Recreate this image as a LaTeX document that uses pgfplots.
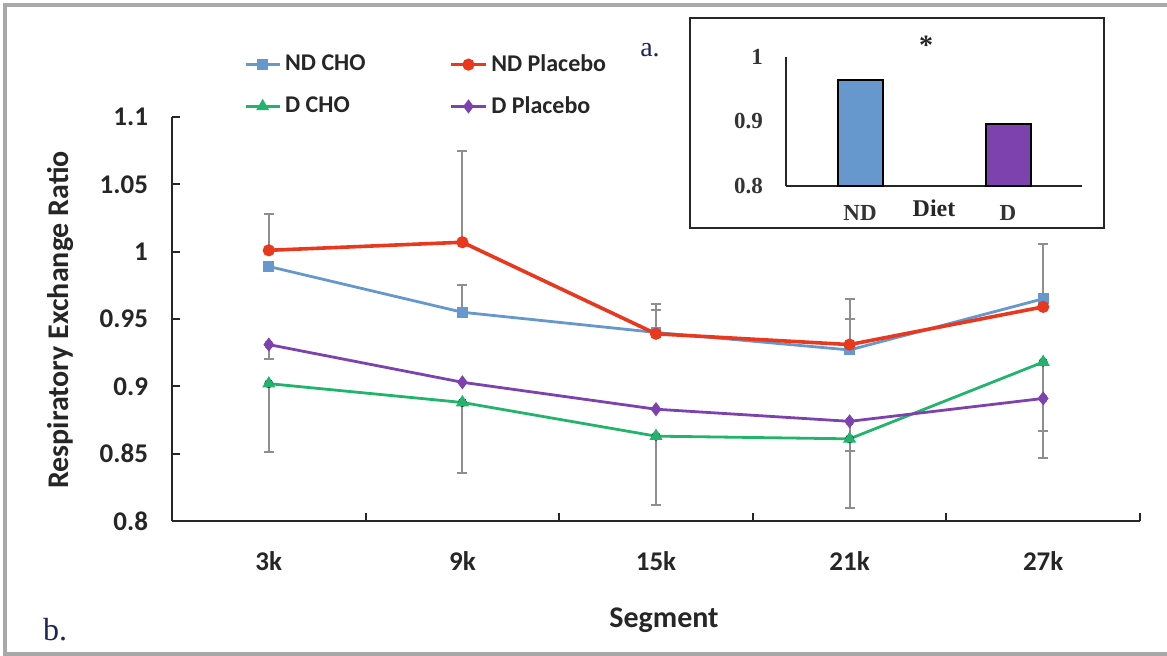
\documentclass[border=0pt]{standalone}
\usepackage{pgfplots}
\pgfplotsset{compat=1.18}
\usepackage{fontspec}
\setmainfont{Carlito}
\newfontfamily\timesf{Liberation Serif}

\definecolor{ndcho}{HTML}{6698CE}
\definecolor{ndpla}{HTML}{E8381E}
\definecolor{dcho}{HTML}{22B46C}
\definecolor{dpla}{HTML}{7E42AE}
\definecolor{errgray}{HTML}{8E8E8E}
\definecolor{navy}{HTML}{1C2458}
\definecolor{framegray}{HTML}{A8A8A8}

\begin{document}
\begin{tikzpicture}
\useasboundingbox (0,0) rectangle (583.5pt,328pt);
% outer frame
\draw[framegray, line width=1.6pt] (600pt,325.5pt) -- (2.5pt,325.5pt) -- (2.5pt,1pt) -- (600pt,1pt);

% main chart (b)
\begin{axis}[
  at={(86pt,67.5pt)}, anchor=south west,
  scale only axis, width=484pt, height=202pt,
  xmin=-0.5, xmax=4.5, ymin=0.8, ymax=1.1,
  axis x line*=bottom, axis y line*=left,
  axis line style={black!85, line width=1pt, -},
  tick align=inside, major tick length=4pt,
  tick style={black!85, line width=1pt},
  xtick={-0.5,0.5,1.5,2.5,3.5,4.5}, xticklabels={},
  extra x ticks={0,1,2,3,4}, extra x tick labels={3k,9k,15k,21k,27k},
  extra x tick style={major tick length=0pt, xticklabel style={yshift=-12pt}},
  ytick={0.8,0.85,0.9,0.95,1,1.05,1.1},
  /pgf/number format/assume math mode=true,
  tick label style={font=\fontsize{13.5pt}{15pt}\selectfont\bfseries, text=black!85},
  yticklabel style={xshift=-8.5pt},
  legend columns=2,
  legend cell align=left,
  legend style={draw=none, fill=none, at={(0.068,1.175)}, anchor=north west,
    font=\fontsize{12pt}{14pt}\selectfont\bfseries, text=black!85,
    /tikz/every even column/.append style={column sep=40pt},
    row sep=7pt},
]
% error bars (upper)
\addplot[forget plot, only marks, mark=none,
  error bars/.cd, y dir=plus, y explicit,
  error bar style={errgray, line width=1pt},
  error mark options={errgray, line width=1pt, mark size=2.5pt, rotate=90}]
  coordinates {(1,0.955) +- (0,0.020) (2,0.940) +- (0,0.017) (3,0.927) +- (0,0.023) (4,0.965) +- (0,0.041)};
\addplot[forget plot, only marks, mark=none,
  error bars/.cd, y dir=plus, y explicit,
  error bar style={errgray, line width=1pt},
  error mark options={errgray, line width=1pt, mark size=2.5pt, rotate=90}]
  coordinates {(0,1.001) +- (0,0.027) (1,1.007) +- (0,0.068) (2,0.939) +- (0,0.022) (3,0.931) +- (0,0.034)};
% error bars (lower)
\addplot[forget plot, only marks, mark=none,
  error bars/.cd, y dir=minus, y explicit,
  error bar style={errgray, line width=1pt},
  error mark options={errgray, line width=1pt, mark size=2.5pt, rotate=90}]
  coordinates {(0,0.902) +- (0,0.051) (1,0.888) +- (0,0.052) (2,0.863) +- (0,0.051) (3,0.861) +- (0,0.051) (4,0.918) +- (0,0.051)};
\addplot[forget plot, only marks, mark=none,
  error bars/.cd, y dir=minus, y explicit,
  error bar style={errgray, line width=1pt},
  error mark options={errgray, line width=1pt, mark size=2.5pt, rotate=90}]
  coordinates {(0,0.931) +- (0,0.011) (3,0.874) +- (0,0.022) (4,0.891) +- (0,0.044)};

% series
\addplot[ndcho, line width=1.4pt, mark=square*, mark size=2pt, mark options={solid}]
  coordinates {(0,0.989) (1,0.955) (2,0.940) (3,0.927) (4,0.965)};
\addlegendentry{ND CHO}
\addplot[ndpla, line width=1.8pt, mark=*, mark size=2.1pt]
  coordinates {(0,1.001) (1,1.007) (2,0.939) (3,0.931) (4,0.959)};
\addlegendentry{ND Placebo}
\addplot[dcho, line width=1.4pt, mark=triangle*, mark size=2.4pt]
  coordinates {(0,0.902) (1,0.888) (2,0.863) (3,0.861) (4,0.918)};
\addlegendentry{D CHO}
\addplot[dpla, line width=1.4pt, mark=diamond*, mark size=2.4pt]
  coordinates {(0,0.931) (1,0.903) (2,0.883) (3,0.874) (4,0.891)};
\addlegendentry{D Placebo}
\end{axis}

\node[font=\fontsize{15pt}{17pt}\selectfont\bfseries, text=black!85] at (332pt,18pt) {Segment};
\node[font=\fontsize{15pt}{17pt}\selectfont\bfseries, text=black!85, rotate=90] at (30pt,168pt) {Respiratory Exchange Ratio};
\node[font=\timesf\fontsize{16pt}{18pt}\selectfont, text=navy] at (27.5pt,13pt) {b.};
\node[font=\timesf\fontsize{14pt}{16pt}\selectfont, text=navy] at (325pt,303pt) {a.};

% inset (a)
\fill[white] (345pt,319pt) rectangle (552pt,214pt);
\draw[black!85, line width=1.2pt] (345pt,319pt) rectangle (552pt,214pt);
\begin{axis}[
  at={(393pt,235pt)}, anchor=south west,
  scale only axis, width=148pt, height=64.5pt,
  xmin=-0.5, xmax=1.5, ymin=0.8, ymax=1.0,
  clip=false,
  axis x line*=bottom, axis y line*=left,
  axis line style={black!85, line width=1pt, -},
  major tick length=0pt,
  xtick={0,1}, xticklabels={ND,D},
  ytick={0.8,0.9,1},
  /pgf/number format/assume math mode=true,
  tick label style={font=\timesf\fontsize{11.5pt}{13pt}\selectfont\bfseries, text=black!80},
  xticklabel style={yshift=-6pt},
  yticklabel style={xshift=-8pt},
  xlabel={Diet},
  xlabel style={at={(axis description cs:0.5,-0.17)}, anchor=center,
    font=\timesf\fontsize{12pt}{14pt}\selectfont\bfseries, text=black!85},
]
\addplot[ybar, bar width=22.5pt, bar shift=0pt, fill=ndcho, draw=black, line width=1pt]
  coordinates {(0,0.964)};
\addplot[ybar, bar width=22.5pt, bar shift=0pt, fill=dpla, draw=black, line width=1pt]
  coordinates {(1,0.896)};
\node[font=\timesf\fontsize{14pt}{16pt}\selectfont\bfseries, text=black!85] at (axis description cs:0.473,1.09) {*};
\end{axis}
\end{tikzpicture}
\end{document}
